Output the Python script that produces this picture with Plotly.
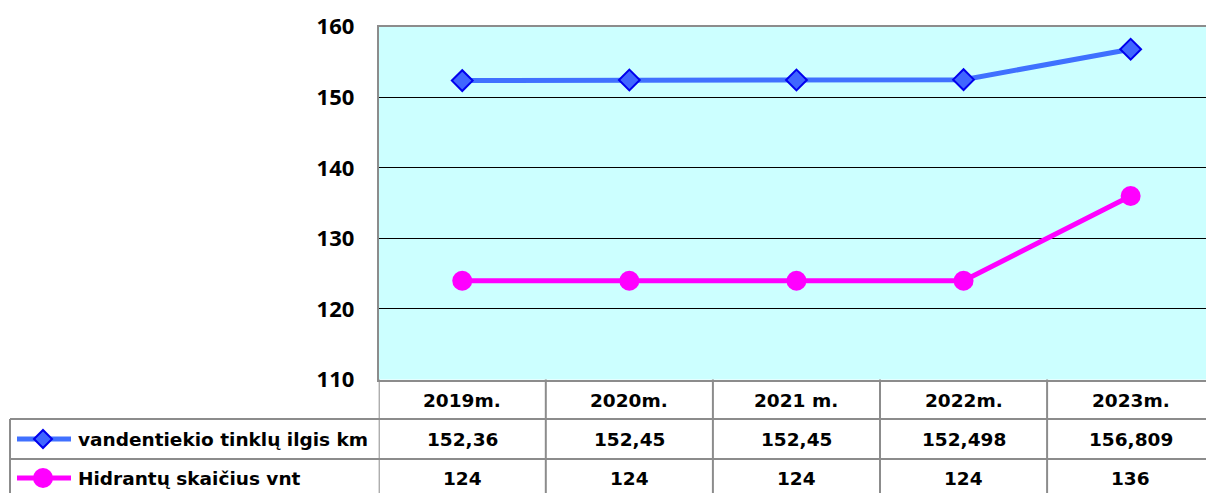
import plotly.graph_objects as go

categories = ["2019m.", "2020m.", "2021 m.", "2022m.", "2023m."]
series_names = ["vandentiekio tinklų ilgis km", "Hidrantų skaičius vnt"]
network_km = [152.36, 152.45, 152.45, 152.498, 156.809]
hydrants = [124, 124, 124, 124, 136]
y_ticks = [110, 120, 130, 140, 150, 160]

W, H = 1206, 493
PX_LEFT, PX_TOP, PX_BOTTOM = 378.7, 26.7, 379.5
COL_W = 167.1

def fmt(v):
    return ("%g" % v).replace(".", ",")

def px(p):  # pixel x -> paper
    return p / W

def py(p):  # pixel y -> paper
    return 1 - p / H

x_idx = list(range(len(categories)))
x_right = (W - PX_LEFT) / COL_W - 0.5

BLUE_LINE = "#4070FF"
BLUE_FILL = "#4066FF"
BLUE_EDGE = "#0000EE"
PINK = "#FF00FF"
GRID_GRAY = "#8C8C8C"

fig = go.Figure()
fig.add_trace(go.Scatter(
    x=x_idx, y=network_km, mode="lines+markers", name=series_names[0],
    line=dict(color=BLUE_LINE, width=5),
    marker=dict(symbol="diamond", size=16, color=BLUE_FILL,
                line=dict(color=BLUE_EDGE, width=2)),
    cliponaxis=False))
fig.add_trace(go.Scatter(
    x=x_idx, y=hydrants, mode="lines+markers", name=series_names[1],
    line=dict(color=PINK, width=5),
    marker=dict(symbol="circle", size=20, color=PINK, line=dict(width=0)),
    cliponaxis=False))

shapes = []
key_rows = [439, 478]
# key lines
for yk, col in zip(key_rows, [BLUE_LINE, PINK]):
    shapes.append(dict(type="line", xref="paper", yref="paper", x0=px(17), x1=px(71),
                       y0=py(yk), y1=py(yk), line=dict(color=col, width=5)))
# key markers
kx, ky, r = 43, key_rows[0], 9
shapes.append(dict(type="path", xref="paper", yref="paper",
                   path="M %f %f L %f %f L %f %f L %f %f Z" % (
                       px(kx - r), py(ky), px(kx), py(ky - r), px(kx + r), py(ky), px(kx), py(ky + r)),
                   fillcolor=BLUE_FILL, line=dict(color=BLUE_EDGE, width=2)))
ky, r = key_rows[1], 10
shapes.append(dict(type="circle", xref="paper", yref="paper",
                   x0=px(kx - r), x1=px(kx + r), y0=py(ky + r), y1=py(ky - r),
                   fillcolor=PINK, line=dict(width=0)))
# table horizontal lines
for yy in [419, 459]:
    shapes.append(dict(type="line", xref="paper", yref="paper", x0=px(10), x1=1,
                       y0=py(yy), y1=py(yy), line=dict(color=GRID_GRAY, width=2)))
# left border of legend cells
shapes.append(dict(type="line", xref="paper", yref="paper", x0=px(10), x1=px(10),
                   y0=py(419), y1=0, line=dict(color=GRID_GRAY, width=2)))
# column separators
for i in range(len(categories) + 1):
    shapes.append(dict(type="line", xref="x", yref="paper", x0=i - 0.5, x1=i - 0.5,
                       y0=py(PX_BOTTOM), y1=0, line=dict(color=GRID_GRAY, width=2)))

annotations = []
TFONT = dict(family="DejaVu Sans", size=18.5, color="black", weight="bold")
row_y = [400, 439, 478]
for i, c in enumerate(categories):
    for ry, txt in zip(row_y, [c, fmt(network_km[i]), fmt(hydrants[i])]):
        annotations.append(dict(x=i, y=py(ry), xref="x", yref="paper", text=txt,
                                showarrow=False, font=TFONT, xanchor="center", yanchor="middle"))
for name, yk in zip(series_names, row_y[1:]):
    annotations.append(dict(x=px(76), y=py(yk), xref="paper", yref="paper", text=name,
                            showarrow=False, font=TFONT, xanchor="left", yanchor="middle"))

fig.update_layout(
    template="none",
    width=W, height=H, autosize=False,
    margin=dict(l=0, r=0, t=0, b=0, pad=0, autoexpand=False),
    paper_bgcolor="white", plot_bgcolor="#CCFFFF",
    showlegend=False,
    xaxis=dict(domain=[px(PX_LEFT), 1], range=[-0.5, x_right], showticklabels=False,
               showgrid=False, zeroline=False, showline=True, linecolor=GRID_GRAY,
               linewidth=2, mirror=True, ticks="", automargin=False),
    yaxis=dict(domain=[py(PX_BOTTOM), py(PX_TOP)], range=[110, 160], tickvals=y_ticks,
               showgrid=True, gridcolor="black", gridwidth=1, zeroline=False,
               showline=True, linecolor=GRID_GRAY, linewidth=2, ticks="",
               ticklabelstandoff=18, automargin=False,
               tickfont=dict(family="Open Sans", size=22, color="black", weight="bold")),
    shapes=shapes, annotations=annotations,
)
fig.write_html("out.html", config={"displayModeBar": False},
               post_script="document.body.style.margin='0';")
